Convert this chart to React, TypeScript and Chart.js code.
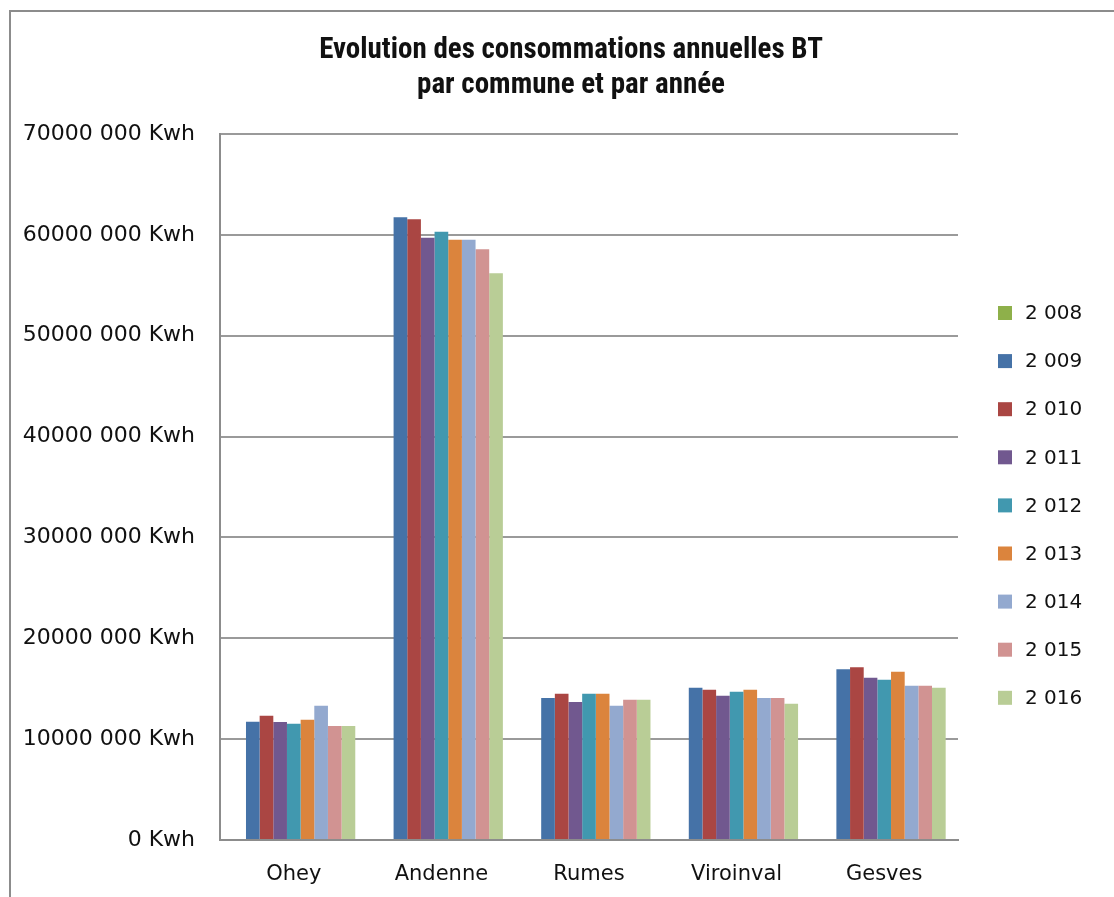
import React, { useEffect, useRef } from "react";
import { Chart, registerables } from "chart.js";

Chart.register(...registerables);

const categories = ["Ohey", "Andenne", "Rumes", "Viroinval", "Gesves"];
const years = ["2 008", "2 009", "2 010", "2 011", "2 012", "2 013", "2 014", "2 015", "2 016"];
const colors = ["#8EB04A", "#4572A7", "#AA4643", "#71588F", "#4198AF", "#DB843D", "#93A9CF", "#D19392", "#B9CD96"];

const values2008: (number | null)[] = [null, null, null, null, null];
const values2009 = [11730000, 61740000, 14080000, 15100000, 16920000];
const values2010 = [12310000, 61540000, 14510000, 14900000, 17120000];
const values2011 = [11700000, 59720000, 13680000, 14310000, 16090000];
const values2012 = [11530000, 60310000, 14510000, 14700000, 15890000];
const values2013 = [11930000, 59520000, 14510000, 14900000, 16690000];
const values2014 = [13320000, 59520000, 13320000, 14080000, 15300000];
const values2015 = [11300000, 58570000, 13910000, 14080000, 15300000];
const values2016 = [11300000, 56190000, 13910000, 13510000, 15100000];

const seriesValues = [values2008, values2009, values2010, values2011, values2012, values2013, values2014, values2015, values2016];

const yTicks = [0, 10000000, 20000000, 30000000, 40000000, 50000000, 60000000, 70000000];

const titleLines = ["Evolution des consommations annuelles BT", "par commune et par année"];

const LABEL_FONT = "'DejaVu Sans', Verdana, sans-serif";
const TITLE_FONT = "'Liberation Sans Narrow', 'Roboto Condensed', 'DejaVu Sans Condensed', 'Open Sans', sans-serif";

const framePlugin = {
  id: "frame",
  beforeDraw(chart: any) {
    const ctx = chart.ctx;
    ctx.save();
    ctx.fillStyle = "#ffffff";
    ctx.fillRect(0, 0, chart.width, chart.height);
    ctx.strokeStyle = "#8c8c8c";
    ctx.lineWidth = 2;
    ctx.beginPath();
    ctx.moveTo(10, chart.height);
    ctx.lineTo(10, 11);
    ctx.lineTo(chart.width, 11);
    ctx.stroke();
    ctx.restore();
  },
};

const titlePlugin = {
  id: "centeredTitle",
  afterDraw(chart: any) {
    const ctx = chart.ctx;
    ctx.save();
    ctx.font = `bold 29px ${TITLE_FONT}`;
    ctx.fillStyle = "#111111";
    ctx.textAlign = "center";
    ctx.textBaseline = "middle";
    const cx = 571;
    titleLines.forEach((line, i) => {
      ctx.fillText(line, cx, 51 + i * 35);
    });
    ctx.restore();
  },
};

const legendPlugin = {
  id: "customLegend",
  afterDraw(chart: any) {
    const ctx = chart.ctx;
    const area = chart.chartArea;
    const x0 = area.right + 40;
    const y0 = 313;
    const step = 48.1;
    ctx.save();
    ctx.font = `20px ${LABEL_FONT}`;
    ctx.textBaseline = "middle";
    ctx.textAlign = "left";
    chart.data.datasets.forEach((ds: any, i: number) => {
      const y = y0 + i * step;
      ctx.fillStyle = ds.backgroundColor;
      ctx.fillRect(x0, y - 7, 14, 14);
      ctx.fillStyle = "#111111";
      ctx.fillText(ds.label, x0 + 27, y + 1);
    });
    ctx.restore();
  },
};

export default function App() {
  const canvasRef = useRef<HTMLCanvasElement | null>(null);

  useEffect(() => {
    document.body.style.margin = "0";
    const canvas = canvasRef.current;
    if (!canvas) return;
    const chart = new Chart(canvas, {
      type: "bar",
      data: {
        labels: categories,
        datasets: years.map((y, i) => ({
          label: y,
          data: seriesValues[i],
          backgroundColor: colors[i],
          borderWidth: 0,
          barPercentage: 1,
          categoryPercentage: 0.833,
        })),
      },
      options: {
        animation: false,
        responsive: false,
        maintainAspectRatio: false,
        layout: { padding: { left: 0, right: 156, top: 134, bottom: 0 } },
        plugins: {
          legend: { display: false },
          tooltip: { enabled: false },
          title: { display: false },
        },
        scales: {
          x: {
            grid: { display: false, drawTicks: false },
            border: { display: true, color: "#8c8c8c", width: 2 },
            ticks: {
              color: "#111111",
              font: { family: LABEL_FONT, size: 21 },
              padding: 22,
              maxRotation: 0,
            },
            afterFit(scale: any) {
              scale.height = 57;
            },
          },
          y: {
            min: 0,
            max: 70000000,
            grid: { color: "#9a9a9a", lineWidth: 2, drawTicks: false },
            border: { display: true, color: "#8c8c8c", width: 2 },
            afterBuildTicks(scale: any) {
              scale.ticks = yTicks.map((v) => ({ value: v }));
            },
            ticks: {
              color: "#111111",
              font: { family: LABEL_FONT, size: 22 },
              padding: 25,
              callback(value: any) {
                const v = Number(value);
                return v === 0 ? "0 Kwh" : `${v / 1000} 000 Kwh`;
              },
            },
            afterFit(scale: any) {
              scale.width = 220;
            },
          },
        },
      },
      plugins: [framePlugin, titlePlugin, legendPlugin],
    });
    return () => chart.destroy();
  }, []);

  return (
    <div style={{ width: 1114, height: 897 }}>
      <canvas ref={canvasRef} width={1114} height={897} style={{ display: "block" }} />
    </div>
  );
}
